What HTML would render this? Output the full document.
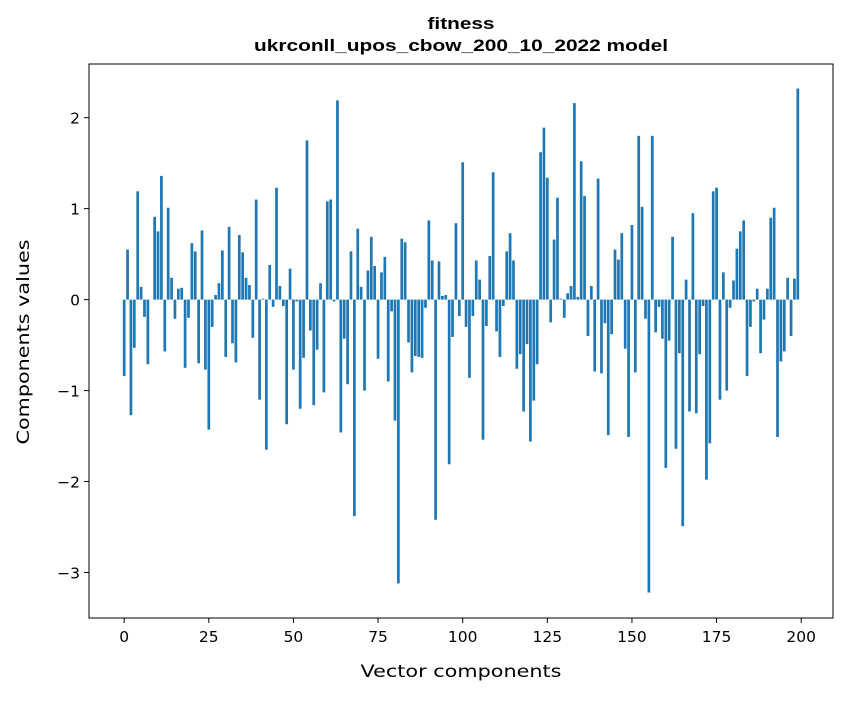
<!DOCTYPE html>
<html><head><meta charset="utf-8"><style>
body{margin:0;background:#fff;}
svg text{font-family:"DejaVu Sans",sans-serif;fill:#000;}
svg text.ttl{font-family:"Liberation Sans",sans-serif;}
</style></head><body>
<svg id="chart" width="847" height="696" xmlns="http://www.w3.org/2000/svg">
<rect width="847" height="696" fill="#fff"/>
<text class="ttl" x="461" y="29" font-size="16.5" font-weight="bold" text-anchor="middle" textLength="67" lengthAdjust="spacingAndGlyphs">fitness</text>
<text class="ttl" x="461" y="51" font-size="16.5" font-weight="bold" text-anchor="middle" textLength="414" lengthAdjust="spacingAndGlyphs">ukrconll_upos_cbow_200_10_2022 model</text>
<g id="bars"></g>
<g id="xticks"></g>
<g id="yticks"></g>
<rect x="89" y="64" width="744" height="554" fill="none" stroke="#000" stroke-width="1"/>
<text x="461" y="677" font-size="17" text-anchor="middle" textLength="201" lengthAdjust="spacingAndGlyphs">Vector components</text>
<text x="0" y="0" font-size="17" text-anchor="middle" textLength="205" lengthAdjust="spacingAndGlyphs" transform="translate(29,342) rotate(-90)">Components values</text>
</svg>
<script>
const values = [
-0.84,0.55,-1.27,-0.53,1.19,0.14,-0.19,-0.71,0.0,0.91,
0.75,1.36,-0.57,1.01,0.24,-0.21,0.12,0.13,-0.75,-0.20,
0.62,0.53,-0.70,0.76,-0.77,-1.43,-0.30,0.05,0.18,0.54,
-0.63,0.80,-0.48,-0.69,0.71,0.52,0.24,0.16,-0.42,1.10,
-1.10,0.01,-1.65,0.38,-0.08,1.23,0.15,-0.07,-1.37,0.34,
-0.77,-0.02,-1.20,-0.64,1.75,-0.34,-1.16,-0.55,0.18,-1.02,
1.08,1.10,-0.02,2.19,-1.46,-0.43,-0.93,0.53,-2.38,0.78,
0.14,-1.00,0.32,0.69,0.37,-0.65,0.30,0.47,-0.90,-0.13,
-1.33,-3.12,0.67,0.63,-0.47,-0.80,-0.62,-0.63,-0.64,-0.09,
0.87,0.43,-2.42,0.42,0.04,0.05,-1.81,-0.41,0.84,-0.18,
1.51,-0.30,-0.86,-0.18,0.43,0.22,-1.54,-0.29,0.48,1.40,
-0.35,-0.63,-0.07,0.53,0.73,0.43,-0.76,-0.60,-1.23,-0.49,
-1.56,-1.11,-0.71,1.62,1.89,1.34,-0.25,0.66,1.12,0.01,
-0.20,0.07,0.15,2.16,0.03,1.52,1.14,-0.40,0.15,-0.79,
1.33,-0.81,-0.26,-1.49,-0.38,0.55,0.44,0.73,-0.54,-1.51,
0.82,-0.80,1.80,1.02,-0.21,-3.22,1.80,-0.36,-0.08,-0.43,
-1.85,-0.45,0.69,-1.64,-0.59,-2.49,0.22,-1.23,0.95,-1.25,
-0.60,-0.07,-1.98,-1.58,1.19,1.23,-1.10,0.30,-1.00,-0.09,
0.21,0.56,0.75,0.87,-0.84,-0.30,-0.02,0.12,-0.59,-0.22,
0.12,0.90,1.01,-1.51,-0.68,-0.57,0.24,-0.40,0.23,2.32];
const xTicks = [0,25,50,75,100,125,150,175,200];
const yTicks = [2,1,0,-1,-2,-3];
const yTickLabels = ["2","1","0","\u22121","\u22122","\u22123"];

const NS="http://www.w3.org/2000/svg";
const X0=89,X1=833,Y0=64,Y1=618;
const xMin=-10.39,xMax=209.39,yMin=-3.5,yMax=2.59;
function xs(v){return X0+(v-xMin)/(xMax-xMin)*(X1-X0);}
function ys(v){return Y1-(v-yMin)/(yMax-yMin)*(Y1-Y0);}
const bars=document.getElementById('bars');
values.forEach((v,i)=>{
  const r=document.createElementNS(NS,'rect');
  const xa=xs(i-0.4),xb=xs(i+0.4);
  const y=Math.min(ys(v),ys(0)),h=Math.abs(ys(v)-ys(0));
  r.setAttribute('x',xa);r.setAttribute('width',xb-xa);
  r.setAttribute('y',y);r.setAttribute('height',h);
  r.setAttribute('fill','#1f77b4');
  
  
  bars.appendChild(r);
});
const xg=document.getElementById('xticks');
xTicks.forEach(t=>{
  const l=document.createElementNS(NS,'line');
  l.setAttribute('x1',xs(t));l.setAttribute('x2',xs(t));
  l.setAttribute('y1',Y1);l.setAttribute('y2',Y1+5);
  l.setAttribute('stroke','#000');
  
  
  xg.appendChild(l);
  const tx=document.createElementNS(NS,'text');
  tx.setAttribute('x',xs(t));tx.setAttribute('y',Y1+24);
  tx.setAttribute('font-size','15.5');tx.setAttribute('text-anchor','middle');
  tx.textContent=String(t);
  
  
  xg.appendChild(tx);
});
const yg=document.getElementById('yticks');
yTicks.forEach((t,i)=>{
  const l=document.createElementNS(NS,'line');
  l.setAttribute('x1',X0-5);l.setAttribute('x2',X0);
  l.setAttribute('y1',ys(t));l.setAttribute('y2',ys(t));
  l.setAttribute('stroke','#000');
  
  
  yg.appendChild(l);
  const tx=document.createElementNS(NS,'text');
  tx.setAttribute('x',X0-9);tx.setAttribute('y',ys(t)+6);
  tx.setAttribute('font-size','15.5');tx.setAttribute('text-anchor','end');
  tx.textContent=yTickLabels[i];
  
  
  yg.appendChild(tx);
});
</script>
</body></html>
